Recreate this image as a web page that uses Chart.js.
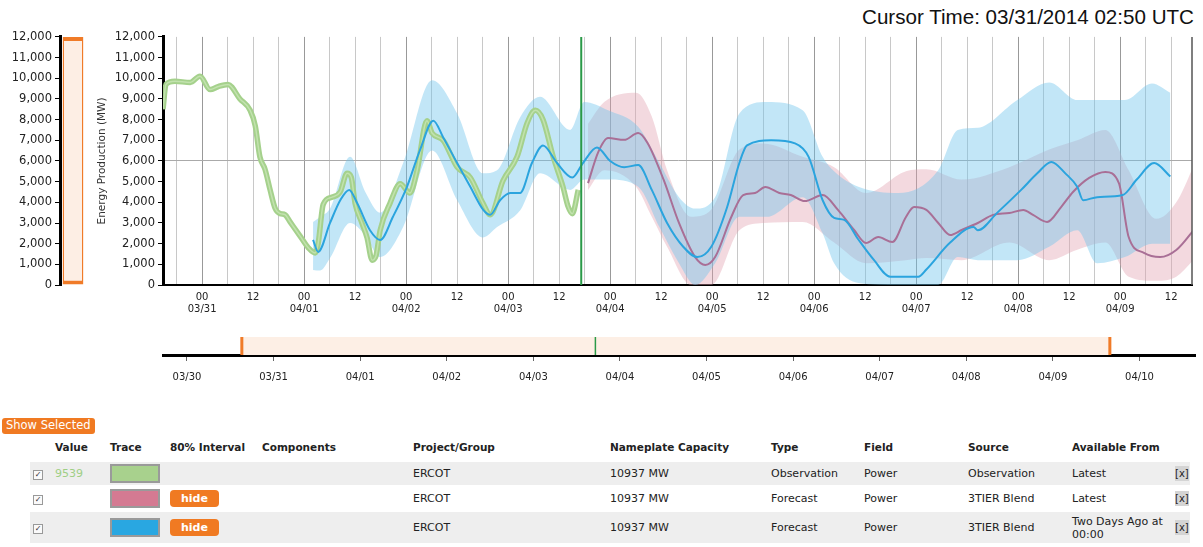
<!DOCTYPE html>
<html>
<head>
<meta charset="utf-8">
<title>ERCOT energy production</title>
<script src="https://cdn.jsdelivr.net/npm/chart.js@4.4.1/dist/chart.umd.min.js"></script>
<style>
  body { margin: 0; width: 1203px; height: 547px; overflow: hidden; background: #fff;
         font-family: "DejaVu Sans", Verdana, sans-serif; color: #222; position: relative; }
  #cursor { position: absolute; right: 9px; top: 5px; font-size: 20.6px; color: #111;
            font-family: "Liberation Sans", Arial, sans-serif; }
  #wrap-range { position: absolute; left: 0; top: 27px; width: 95px; height: 268px; }
  #wrap-main { position: absolute; left: 90px; top: 27px; width: 1110px; height: 298px; }
  #wrap-nav { position: absolute; left: 150px; top: 330px; width: 1053px; height: 65px; }
  #show-sel { position: absolute; left: 2px; top: 418px; background: #f07a22; color: #fff;
              font-size: 11.5px; padding: 1px 4px 2px; border-radius: 3px; line-height: 13px; }
  #traces { position: absolute; left: 30px; top: 436px; width: 1160px; border-collapse: collapse;
            font-size: 11px; table-layout: fixed; }
  #traces th { text-align: left; font-weight: bold; font-size: 10.5px; height: 22px; padding: 0 0 4px 0; vertical-align: middle; }
  #traces td { padding: 0; vertical-align: middle; line-height: 13px; }
  #traces tr.g td { background: #eeeeee; }
  #traces tr.r1 td { height: 23px; }
  #traces tr.r2 td { height: 27px; }
  #traces tr.r3 td { height: 31px; }
  .cb { display: inline-block; width: 8px; height: 8px; border: 1px solid #999; background: #fafafa;
        margin-left: 3px; font-size: 8px; line-height: 8px; text-align: center; color: #333; }
  .sw { display: inline-block; width: 46px; height: 15px; border: 2px solid #9a9a9a; vertical-align: middle; }
  .hide { display: inline-block; background: #f07a22; color: #fff; font-weight: bold; border-radius: 4px;
          padding: 2px 11px; line-height: 13px; }
  .xx { display: inline-block; background: #d4d4d4; font-size: 10px; padding: 1px 0; }
</style>
</head>
<body>
<div id="cursor">Cursor Time: 03/31/2014 02:50 UTC</div>
<div id="wrap-range"><canvas id="chart-range"></canvas></div>
<div id="wrap-main"><canvas id="chart-main"></canvas></div>
<div id="wrap-nav"><canvas id="chart-nav"></canvas></div>

<div id="show-sel">Show Selected</div>
<table id="traces">
  <colgroup>
    <col style="width:25px"><col style="width:55px"><col style="width:60px"><col style="width:92px">
    <col style="width:151px"><col style="width:197px"><col style="width:161px"><col style="width:93px">
    <col style="width:104px"><col style="width:104px"><col style="width:103px"><col style="width:15px">
  </colgroup>
  <tr><th></th><th>Value</th><th>Trace</th><th>80% Interval</th><th>Components</th><th>Project/Group</th>
      <th>Nameplate Capacity</th><th>Type</th><th>Field</th><th>Source</th><th>Available From</th><th></th></tr>
  <tr class="g r1"><td><span class="cb">&#10003;</span></td><td style="color:#9fcf85">9539</td>
      <td><span class="sw" style="background:#a8d18d"></span></td><td></td><td></td><td>ERCOT</td>
      <td>10937 MW</td><td>Observation</td><td>Power</td><td>Observation</td><td>Latest</td><td><span class="xx">[x]</span></td></tr>
  <tr class="r2"><td><span class="cb">&#10003;</span></td><td></td>
      <td><span class="sw" style="background:#d47a92"></span></td><td><span class="hide">hide</span></td><td></td><td>ERCOT</td>
      <td>10937 MW</td><td>Forecast</td><td>Power</td><td>3TIER Blend</td><td>Latest</td><td><span class="xx">[x]</span></td></tr>
  <tr class="g r3"><td><span class="cb">&#10003;</span></td><td></td>
      <td><span class="sw" style="background:#29a7e1"></span></td><td><span class="hide">hide</span></td><td></td><td>ERCOT</td>
      <td>10937 MW</td><td>Forecast</td><td>Power</td><td>3TIER Blend</td><td>Two Days Ago at 00:00</td><td><span class="xx">[x]</span></td></tr>
</table>

<script>
// time is in hours after 03/30 00:00 UTC
const dayLabels = ['03/30', '03/31', '04/01', '04/02', '04/03', '04/04', '04/05', '04/06', '04/07', '04/08', '04/09', '04/10'];
const viewRange = [14.8, 256.9];
const navRange = [-6.65, 279.4];
const selRange = [15.2, 255.8];
const nowHour = 113.2;
const yRange = [0, 12000];

// observation (green)
const obsHours = [14.8, 15.5, 17.6, 21.2, 23.5, 25.9, 27.8, 30.1, 32.9, 35.3, 36.5, 37.6, 38.8, 40.0, 41.2, 42.4, 43.5, 44.7,
  47.1, 49.0, 50.6, 51.3, 52.5, 54.6, 56.5, 58.1, 59.1, 60.0, 61.6, 62.8, 64.0, 64.9, 65.9, 68.2, 70.6, 72.9, 74.6, 76.9,
  78.1, 80.7, 84.0, 87.1, 90.1, 91.8, 94.8, 98.1, 100.5, 102.4, 104.2, 106.6, 108.9, 110.1, 111.1, 112.5];
const obsMW = [8500, 9700, 9850, 9800, 10100, 9450, 9600, 9700, 9000, 8450, 7700, 6200, 5600, 4600, 3700, 3450, 3400, 3050,
  2350, 1800, 1550, 2000, 3900, 4250, 4500, 5400, 5200, 3950, 3000, 2300, 1200, 1400, 2650, 3950, 4900, 4450, 5550, 7950,
  7350, 7000, 5700, 5200, 3950, 3400, 5050, 6200, 7850, 8450, 8000, 6200, 4750, 3800, 3450, 4600];

// forecast issued two days ago (blue)
const blueHours = [50.1, 51.3, 54.1, 56.5, 58.6, 60.5, 63.5, 65.9, 68.9, 72.2, 75.3, 78.4, 80.7, 84.0, 87.1, 90.1, 91.8,
  94.1, 96.5, 98.8, 101.6, 104.2, 107.5, 111.1, 113.6, 116.9, 120.0, 123.3, 126.6, 129.8, 133.4, 137.2, 140.5, 143.8,
  147.5, 150.4, 152.2, 157.9, 163.5, 166.7, 170.0, 172.7, 175.1, 178.4, 182.1, 185.9, 192.5, 194.4, 200.0, 205.5, 206.5,
  211.1, 216.7, 220.5, 223.8, 227.1, 229.9, 231.3, 234.6, 240.6, 243.9, 248.0, 251.8];
const blueMW = [2180, 1600, 3000, 4100, 4600, 3950, 2650, 2180, 3300, 4750, 6550, 7950, 7150, 5900, 4750, 3650, 3400,
  4100, 4450, 4450, 5900, 6750, 5900, 5200, 5900, 6650, 6000, 5700, 5800, 4600, 3000, 1850, 1350, 1850,
  3750, 5900, 6750, 7000, 6850, 6200, 4100, 3250, 3150, 2200, 1200, 400, 400, 750, 2050, 2800, 2650,
  3500, 4600, 5400, 5950, 5400, 4750, 4100, 4250, 4350, 5100, 5900, 5250];
const blueBandHours = [50.1, 51.8, 54.1, 58.8, 62.4, 65.9, 71.3, 78.1, 84.0, 90.1, 93.4, 98.8, 103.5, 110.6, 113.9, 119.5,
  126.6, 131.6, 136.2, 140.0, 144.7, 150.4, 156.9, 165.3, 170.0, 172.7, 178.4, 187.8, 197.2, 201.8, 206.5, 215.8, 223.3,
  229.9, 234.6, 241.1, 247.5, 251.8];
const blueBandLo = [730, 700, 1300, 3000, 2400, 1350, 2800, 6500, 4100, 2300, 2800, 3600, 5400, 4600, 5100, 5100,
  4750, 2800, 1050, 0, 1050, 3300, 3300, 4250, 2500, 1050, 100, 0, 0, 1350, 1200, 1200, 1850,
  2650, 1050, 1350, 2000, 2000];
const blueBandHi = [3050, 3300, 3700, 6200, 4500, 3500, 5900, 9900, 8300, 5400, 5550, 8100, 9100, 7500, 8850, 8450,
  7650, 5900, 4250, 3700, 4250, 8300, 8850, 8450, 6200, 5500, 4750, 4450, 5550, 7500, 7600, 8950, 9800,
  8950, 8950, 8950, 9750, 9300];

// latest forecast (pink)
const pinkHours = [114.8, 117.2, 119.5, 123.3, 126.6, 128.8, 132.6, 136.2, 140.0, 142.4, 144.7, 148.5, 151.3, 154.1, 156.5,
  159.8, 162.5, 165.8, 170.0, 173.6, 177.4, 180.2, 183.1, 186.4, 189.6, 191.5, 194.4, 197.2, 200.0, 202.7, 206.5, 210.1,
  213.9, 217.2, 219.5, 222.8, 226.1, 228.9, 232.7, 236.5, 239.7, 242.0, 245.6, 249.4, 253.2, 257.9];
const pinkMW = [4930, 6430, 7110, 7020, 7350, 6870, 5080, 3000, 1350, 970, 1350, 3290, 4350, 4450, 4740,
  4450, 4350, 4060, 4350, 3630, 2660, 2030, 2320, 2080, 3290, 3770, 3630, 3000, 2420, 2660, 3000, 3390,
  3480, 3630, 3390, 3050, 3770, 4500, 5180, 5470, 4930, 2320, 1550, 1350, 1690, 2810];
const pinkBandHours = [114.8, 118.6, 126.1, 129.8, 133.4, 139.1, 143.8, 150.4, 156.0, 165.3, 172.7, 180.2, 189.6, 194.4,
  202.7, 213.9, 223.3, 229.9, 236.5, 242.0, 248.5, 253.2, 257.9];
const pinkBandLo = [4600, 5550, 4750, 3300, 1850, 0, 0, 2650, 3000, 3050, 2050, 1050, 1200, 1300,
  1200, 2050, 1200, 1700, 2050, 400, 200, 400, 1350];
const pinkBandHi = [7800, 8850, 9300, 8150, 5550, 3300, 3650, 6550, 6850, 6200, 5700, 4450, 5500, 5600,
  5100, 5700, 6550, 7000, 7500, 5550, 3200, 4000, 6050];

Chart.defaults.font.family = '"DejaVu Sans", Verdana, sans-serif';
Chart.defaults.color = '#222';

const toPoints = (xs, ys) => xs.map((x, i) => ({ x, y: ys[i] }));
const fmt = (v) => v.toLocaleString('en-US');

const baseOptions = {
  animation: false,
  responsive: true,
  maintainAspectRatio: false,
  devicePixelRatio: 1,
  events: [],
  plugins: { legend: { display: false }, tooltip: { enabled: false } },
  elements: { point: { radius: 0 } }
};

// left range selector
new Chart(document.getElementById('chart-range'), {
  type: 'bar',
  data: {
    labels: [''],
    datasets: [{
      data: [yRange],
      backgroundColor: '#fdeee4',
      borderColor: '#f07b28',
      borderWidth: { top: 4, bottom: 4, left: 1.5, right: 1.5 },
      borderSkipped: false,
      barPercentage: 0.8,
      categoryPercentage: 1
    }]
  },
  options: {
    ...baseOptions,
    layout: { padding: { top: 5, right: 9, bottom: 9 } },
    scales: {
      x: { display: false },
      y: {
        min: yRange[0], max: yRange[1],
        afterFit: (s) => { s.width = 60; },
        ticks: { stepSize: 1000, font: { size: 11.5 }, padding: 3, callback: fmt },
        grid: { drawOnChartArea: false, tickLength: 5, tickColor: '#000' },
        border: { color: '#000', width: 3 }
      }
    }
  }
});

// main chart
const edgeLine = {
  id: 'edgeLine',
  afterDraw(chart) {
    const { ctx, chartArea } = chart;
    ctx.save();
    ctx.strokeStyle = '#555';
    ctx.lineWidth = 1.5;
    ctx.beginPath();
    ctx.moveTo(chartArea.right, chartArea.top);
    ctx.lineTo(chartArea.right, chartArea.bottom);
    ctx.stroke();
    ctx.restore();
  }
};

const gridHours = [];
for (let h = 18; h <= viewRange[1]; h += 6) gridHours.push(h);

new Chart(document.getElementById('chart-main'), {
  type: 'line',
  data: {
    datasets: [
      { data: [{ x: nowHour, y: yRange[0] }, { x: nowHour, y: yRange[1] }], borderColor: '#2a9a48', borderWidth: 2, order: 0 },
      { data: toPoints(blueHours, blueMW), borderColor: '#2ba4de', borderWidth: 2, cubicInterpolationMode: 'monotone', order: 1 },
      { data: toPoints(pinkHours, pinkMW), borderColor: '#a96f96', borderWidth: 2, cubicInterpolationMode: 'monotone', order: 2 },
      { data: toPoints(obsHours, obsMW), borderColor: '#c2e2ae', borderWidth: 1.5, cubicInterpolationMode: 'monotone', order: 3 },
      { data: toPoints(obsHours, obsMW), borderColor: '#a5d18c', borderWidth: 5.5, cubicInterpolationMode: 'monotone', order: 4 },
      { data: toPoints(blueBandHours, blueBandLo), borderWidth: 0, cubicInterpolationMode: 'monotone', order: 5 },
      { data: toPoints(blueBandHours, blueBandHi), borderWidth: 0, cubicInterpolationMode: 'monotone', order: 5,
        fill: '-1', backgroundColor: 'rgba(110,195,235,0.42)' },
      { data: toPoints(pinkBandHours, pinkBandLo), borderWidth: 0, cubicInterpolationMode: 'monotone', order: 6 },
      { data: toPoints(pinkBandHours, pinkBandHi), borderWidth: 0, cubicInterpolationMode: 'monotone', order: 6,
        fill: '-1', backgroundColor: 'rgba(225,160,175,0.4)' }
    ]
  },
  options: {
    ...baseOptions,
    layout: { padding: { top: 4, right: 8 } },
    scales: {
      x: {
        type: 'linear', min: viewRange[0], max: viewRange[1],
        afterBuildTicks: (s) => { s.ticks = gridHours.map((v) => ({ value: v })); },
        afterFit: (s) => { s.height = 40; },
        grid: {
          drawTicks: false,
          color: (c) => (c.tick && c.tick.value % 24 === 0 ? '#999999' : '#c8c8c8')
        },
        border: { color: '#000', width: 2 },
        ticks: {
          autoSkip: false, maxRotation: 0, padding: 6, font: { size: 10 },
          callback: (v) => {
            const h = Math.round(v);
            if (h % 24 === 0) return ['00', dayLabels[h / 24]];
            if (h % 24 === 12) return '12';
            return '';
          }
        }
      },
      y: {
        min: yRange[0], max: yRange[1],
        afterFit: (s) => { s.width = 73; },
        ticks: { stepSize: 1000, font: { size: 11.5 }, padding: 3, callback: fmt },
        grid: {
          color: (c) => (c.tick && c.tick.value === 6000 ? '#aaaaaa' : 'rgba(0,0,0,0)'),
          tickColor: '#000', tickLength: 5
        },
        border: { color: '#000', width: 3 },
        title: { display: true, text: 'Energy Production (MW)', font: { size: 10.5 }, color: '#333', padding: { top: 6, bottom: 0 } }
      }
    }
  },
  plugins: [edgeLine]
});

// navigator
new Chart(document.getElementById('chart-nav'), {
  type: 'line',
  data: {
    datasets: [
      { data: [{ x: nowHour, y: 0 }, { x: nowHour, y: 1 }], borderColor: '#2a9a48', borderWidth: 1.5, order: 0 },
      { data: [{ x: selRange[0], y: 0 }, { x: selRange[0], y: 1 }], borderColor: '#f07b28', borderWidth: 3, order: 1 },
      { data: [{ x: selRange[1], y: 0 }, { x: selRange[1], y: 1 }], borderColor: '#f07b28', borderWidth: 3, order: 1 },
      { data: [{ x: selRange[0], y: 1 }, { x: selRange[1], y: 1 }], borderWidth: 0, fill: 'origin',
        backgroundColor: '#fdefe5', order: 2 }
    ]
  },
  options: {
    ...baseOptions,
    layout: { padding: { top: 7, left: 13, right: 8 } },
    scales: {
      x: {
        type: 'linear', min: navRange[0], max: navRange[1],
        afterBuildTicks: (s) => { s.ticks = dayLabels.map((_, i) => ({ value: i * 24 })); },
        afterFit: (s) => { s.height = 40; },
        grid: { drawOnChartArea: false, tickLength: 6, color: '#666' },
        border: { color: '#000', width: 3 },
        ticks: {
          autoSkip: false, maxRotation: 0, padding: 10, font: { size: 10 },
          callback: (v) => dayLabels[Math.round(v / 24)]
        }
      },
      y: { display: false, min: 0, max: 1 }
    }
  }
});
</script>
</body>
</html>
